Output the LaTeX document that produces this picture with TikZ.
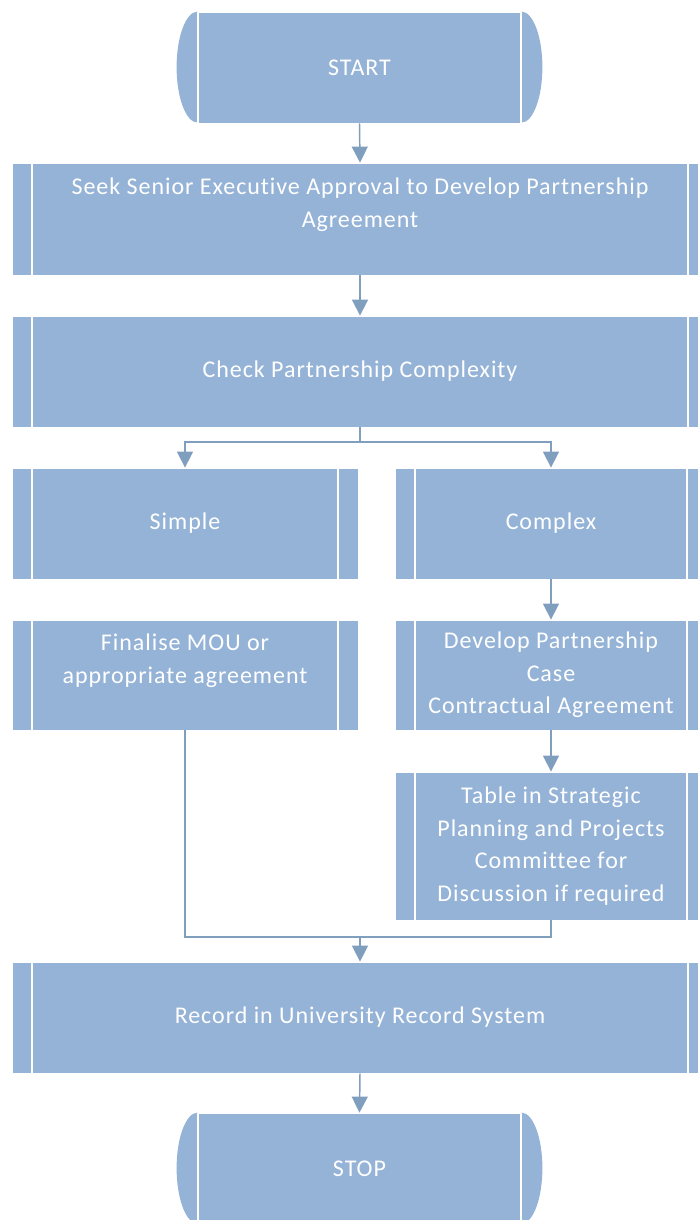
\documentclass[tikz,border=0pt]{standalone}
\usepackage{fontspec}
\setmainfont[LetterSpace=4, Ligatures=NoCommon]{Carlito}
\usepackage{tikz}
\usetikzlibrary{arrows.meta}
\definecolor{boxblue}{RGB}{149, 179, 215}
\definecolor{linkblue}{RGB}{128, 159, 190}

\tikzset{
  flowfill/.style={fill=boxblue, draw=white, line width=0.6pt, text=white,
    font=\fontsize{18pt}{24.4pt}\selectfont, align=center, inner sep=0pt},
  % predefined process box, inner bars 20px from each side
  pbox/.style 2 args={flowfill, minimum width=#1*0.75pt, minimum height=#2*0.75pt,
    path picture={
      \draw[white, line width=1.5pt]
        ([xshift=15pt]path picture bounding box.north west) -- ([xshift=15pt]path picture bounding box.south west)
        ([xshift=-15pt]path picture bounding box.north east) -- ([xshift=-15pt]path picture bounding box.south east);
    }},
  termbox/.style={flowfill, minimum width=323*0.75pt, minimum height=111*0.75pt},
  link/.style={draw=linkblue, line width=1.1pt},
  linkarrow/.style={link, -{Triangle[width=12pt,length=12pt]}},
}

\begin{document}
\begin{tikzpicture}[x=0.75pt,y=0.75pt,yscale=-1,xscale=1]
\useasboundingbox (0,0) rectangle (698,1220);
\clip (0,0) rectangle (698,1220);

% Terminator START
\node[termbox] (start) at (359.5,67.5) {START};
\fill[boxblue] (start.north west) arc[start angle=-90, end angle=-270, x radius=21, y radius=55.5];
\fill[boxblue] (start.north east) arc[start angle=-90, end angle=90, x radius=21, y radius=55.5];
\draw[white, line width=1.5pt] (start.north west) -- (start.south west) (start.north east) -- (start.south east);

% Process boxes
\node[pbox={696}{112}] (seek) at (360,219) {Seek Senior Executive Approval to Develop Partnership\\Agreement\\ \mbox{}};
\node[pbox={696}{111}] (check) at (360,371.5) {Check Partnership Complexity};
\node[pbox={346}{111}] (simple) at (185,523.5) {Simple};
\node[pbox={312}{111}] (complex) at (551,523.5) {Complex};
\node[pbox={346}{110}] (finalise) at (185,675) {Finalise MOU or\\appropriate agreement\\ \mbox{}};
\node[pbox={312}{110}] (develop) at (551,675) {Develop Partnership\\Case\\Contractual Agreement};
\node[pbox={312}{148}] (table) at (551,846) {Table in Strategic\\Planning and Projects\\Committee for\\Discussion if required};
\node[pbox={696}{111}] (record) at (360,1017.5) {Record in University Record System};

% Terminator STOP
\node[termbox] (stop) at (359.5,1168.5) {STOP};
\fill[boxblue] (stop.north west) arc[start angle=-90, end angle=-270, x radius=21, y radius=55.5];
\fill[boxblue] (stop.north east) arc[start angle=-90, end angle=90, x radius=21, y radius=55.5];
\draw[white, line width=1.5pt] (stop.north west) -- (stop.south west) (stop.north east) -- (stop.south east);

% Connectors
\coordinate (split) at (360,442);
\coordinate (merge) at (360,937);
\draw[linkarrow] (start.south) -- (seek.north);
\draw[linkarrow] (seek.south) -- (check.north);
\draw[link] (check.south) -- (split);
\draw[linkarrow] (split) -| (simple.north);
\draw[linkarrow] (split) -| (complex.north);
\draw[linkarrow] (complex.south) -- (develop.north);
\draw[linkarrow] (develop.south) -- (table.north);
\draw[link] (finalise.south) |- (merge);
\draw[link] (table.south) |- (merge);
\draw[linkarrow] (merge) -- (record.north);
\draw[linkarrow] (record.south) -- (stop.north);

\end{tikzpicture}
\end{document}
